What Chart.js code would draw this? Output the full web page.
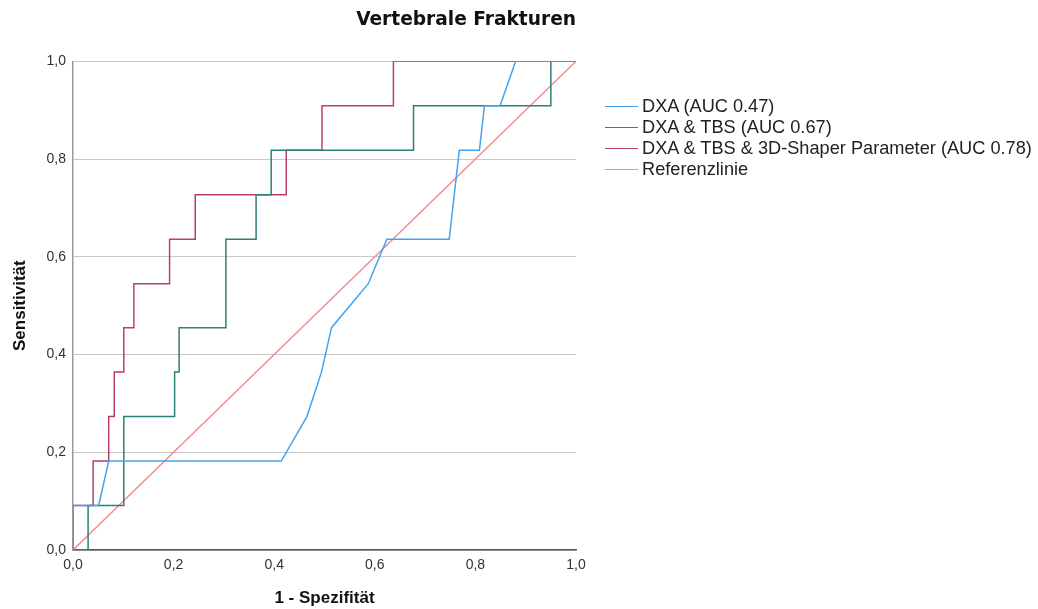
<!DOCTYPE html>
<html>
<head>
<meta charset="utf-8">
<script src="https://cdn.jsdelivr.net/npm/chart.js@4"></script>
<style>
  body { margin: 0; background: #fff; }
  #wrap { position: relative; width: 1038px; height: 609px; }
  #roc { position: absolute; left: 0; top: 0; }
  #legend { position: absolute; left: 605px; top: 96px; font-family: "Liberation Sans", Arial, sans-serif; font-size: 18.2px; color: #222; }
  .row { height: 21px; line-height: 21px; white-space: nowrap; display: flex; align-items: center; }
  .swatch { width: 33px; height: 1.6px; margin-right: 4px; }
</style>
</head>
<body>
<div id="wrap">
  <canvas id="roc" width="936" height="609"></canvas>
  <div id="legend"></div>
</div>
<script>
const seriesNames = ["DXA (AUC 0.47)", "DXA & TBS (AUC 0.67)", "DXA & TBS & 3D-Shaper Parameter (AUC 0.78)", "Referenzlinie"];
const xTickLabels = ["0,0", "0,2", "0,4", "0,6", "0,8", "1,0"];
const yTickLabels = ["0,0", "0,2", "0,4", "0,6", "0,8", "1,0"];

// 1 - Spezifität / Sensitivität
const dxaX = [0, 0, 0.051, 0.071, 0.414, 0.465, 0.494, 0.514, 0.587, 0.624, 0.748, 0.768, 0.808, 0.818, 0.849, 0.880, 1];
const dxaY = [0, 0.091, 0.091, 0.182, 0.182, 0.273, 0.364, 0.455, 0.545, 0.636, 0.636, 0.818, 0.818, 0.909, 0.909, 1, 1];

const tbsX = [0, 0.030, 0.030, 0.101, 0.101, 0.202, 0.202, 0.211, 0.211, 0.304, 0.304, 0.364, 0.364, 0.394, 0.394, 0.677, 0.677, 0.950, 0.950, 1];
const tbsY = [0, 0, 0.091, 0.091, 0.273, 0.273, 0.364, 0.364, 0.455, 0.455, 0.636, 0.636, 0.727, 0.727, 0.818, 0.818, 0.909, 0.909, 1, 1];

const shaperX = [0, 0, 0.040, 0.040, 0.071, 0.071, 0.082, 0.082, 0.101, 0.101, 0.121, 0.121, 0.192, 0.192, 0.243, 0.243, 0.424, 0.424, 0.495, 0.495, 0.637, 0.637, 1];
const shaperY = [0, 0.091, 0.091, 0.182, 0.182, 0.273, 0.273, 0.364, 0.364, 0.455, 0.455, 0.545, 0.545, 0.636, 0.636, 0.727, 0.727, 0.818, 0.818, 0.909, 0.909, 1, 1];

const refX = [0, 1];
const refY = [0, 1];

const colors = ["#44a3ee", "#2e7f77", "#b83d72", "#f6898a"];

function toPoints(xs, ys) {
    return xs.map((x, i) => ({ x: x, y: ys[i] }));
}

const font = "'Liberation Sans', Arial, sans-serif";

const chart = new Chart(document.getElementById("roc"), {
    type: "line",
    data: {
        datasets: [
            { label: seriesNames[0], data: toPoints(dxaX, dxaY) },
            { label: seriesNames[1], data: toPoints(tbsX, tbsY) },
            { label: seriesNames[2], data: toPoints(shaperX, shaperY) },
            { label: seriesNames[3], data: toPoints(refX, refY) }
        ].map((d, i) => Object.assign(d, {
            borderColor: colors[i],
            backgroundColor: colors[i],
            borderWidth: 1.5,
            pointRadius: 0,
            tension: 0,
            fill: false
        }))
    },
    options: {
        responsive: false,
        animation: false,
        layout: { padding: { left: 0, right: 360, top: 0, bottom: 0 } },
        plugins: {
            legend: { display: false },
            tooltip: { enabled: false },
            title: {
                display: true,
                text: "Vertebrale Frakturen",
                align: "end",
                color: "#111",
                font: { family: "'DejaVu Sans', sans-serif", size: 18.6, weight: "bold" },
                padding: { top: 9, bottom: 30 }
            }
        },
        scales: {
            x: {
                type: "linear",
                min: 0,
                max: 1,
                afterFit: s => { s.height = 59; },
                grid: { display: false, drawTicks: false },
                border: { display: true, color: "#555", width: 1.5 },
                ticks: {
                    stepSize: 0.2,
                    padding: 7,
                    color: "#333",
                    font: { family: font, size: 14 },
                    callback: (v, i) => xTickLabels[i]
                },
                title: {
                    display: true,
                    text: "1 - Spezifität",
                    color: "#111",
                    font: { family: font, size: 17, weight: "bold" },
                    padding: { top: 0, bottom: 0 }
                }
            },
            y: {
                type: "linear",
                min: 0,
                max: 1,
                afterFit: s => { s.width = 73; },
                grid: { color: "#c8c8c8", lineWidth: 1, drawTicks: false },
                border: { display: true, color: "#999", width: 1.5 },
                ticks: {
                    stepSize: 0.2,
                    padding: 7,
                    color: "#333",
                    font: { family: font, size: 14 },
                    callback: (v, i) => yTickLabels[i]
                },
                title: {
                    display: true,
                    text: "Sensitivität",
                    color: "#111",
                    font: { family: font, size: 17, weight: "bold" },
                    padding: { top: 10, bottom: 0 }
                }
            }
        }
    }
});

// legend beside the plot, built from the datasets
const legend = document.getElementById("legend");
chart.data.datasets.forEach(ds => {
    const row = document.createElement("div");
    row.className = "row";
    const sw = document.createElement("span");
    sw.className = "swatch";
    sw.style.background = ds.borderColor;
    const txt = document.createElement("span");
    txt.textContent = ds.label;
    row.appendChild(sw);
    row.appendChild(txt);
    legend.appendChild(row);
});
</script>
</body>
</html>
